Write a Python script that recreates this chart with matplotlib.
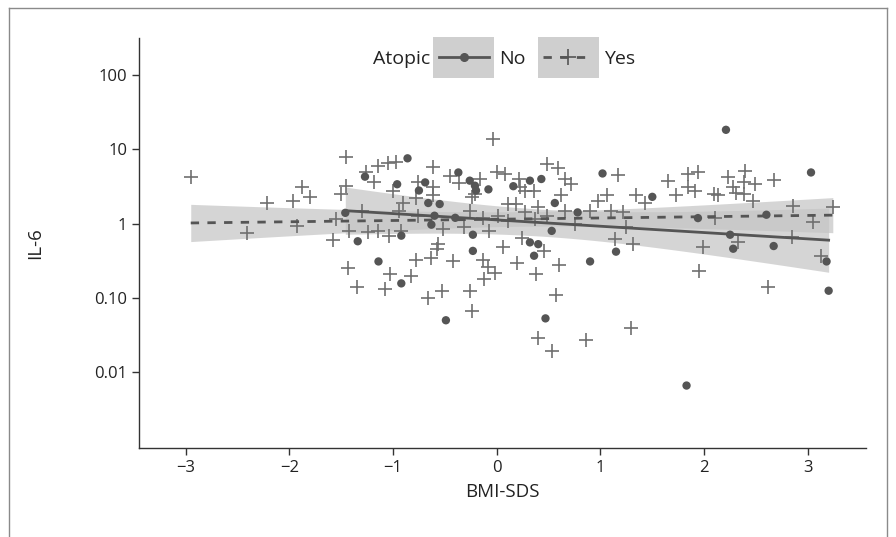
import numpy as np
import matplotlib
matplotlib.use("Agg")
import matplotlib.pyplot as plt
from matplotlib.lines import Line2D
from matplotlib.patches import Rectangle
from matplotlib.legend_handler import HandlerLine2D

plt.rcParams['font.family'] = ['Open Sans', 'DejaVu Sans']

# Atopic = No (filled circles)
no_x = [-1.46, -1.27, -1.34, -1.14, -0.92, -0.92, -0.96, -0.86, -0.69, -0.75,
        -0.66, -0.55, -0.63, -0.60, -0.49, -0.40, -0.37, -0.26, -0.21, -0.20,
        -0.08, -0.23, -0.23, 0.16, 0.32, 0.43, 0.56, 0.53, 0.32, 0.40,
        0.36, 0.47, 0.78, 0.90, 1.02, 1.15, 1.50, 1.83, 1.94, 2.21,
        2.25, 2.28, 2.60, 2.67, 3.03, 3.18, 3.20]
no_y = [1.4, 4.3, 0.58, 0.31, 0.69, 0.157, 3.4, 7.6, 3.6, 2.8,
        1.9, 1.84, 0.97, 1.28, 0.05, 1.2, 4.9, 3.8, 3.25, 2.8,
        2.9, 0.71, 0.43, 3.2, 3.8, 4.0, 1.9, 0.8, 0.56, 0.53,
        0.37, 0.053, 1.42, 0.31, 4.75, 0.42, 2.3, 0.0066, 1.19, 18.4,
        0.71, 0.46, 1.32, 0.5, 4.9, 0.31, 0.125]

# Atopic = Yes (plus markers)
yes_x = [-2.95, -2.41, -2.21, -1.96, -1.93, -1.88, -1.80, -1.58, -1.55, -1.50,
         -1.45, -1.45, -1.42, -1.43, -1.35, -1.30, -1.26, -1.24, -1.18, -1.14,
         -1.14, -1.08, -1.05, -1.04, -1.03, -1.00, -0.97, -0.94, -0.92, -0.90,
         -0.83, -0.78, -0.78, -0.76, -0.76, -0.66, -0.63, -0.61, -0.61, -0.61,
         -0.58, -0.57, -0.53, -0.52, -0.45, -0.42, -0.36, -0.32, -0.26, -0.26,
         -0.24, -0.24, -0.21, -0.16, -0.13, -0.13, -0.12, -0.08, -0.07, -0.04,
         -0.02, 0.00, 0.01, 0.06, 0.08, 0.11, 0.11, 0.19, 0.20, 0.21,
         0.22, 0.24, 0.27, 0.27, 0.37, 0.36, 0.38, 0.40, 0.40, 0.46,
         0.48, 0.48, 0.53, 0.57, 0.59, 0.60, 0.62, 0.66, 0.66, 0.72,
         0.75, 0.86, 0.90, 0.98, 1.06, 1.10, 1.14, 1.17, 1.22, 1.25,
         1.29, 1.31, 1.34, 1.43, 1.65, 1.73, 1.84, 1.84, 1.91, 1.94,
         1.95, 1.99, 2.09, 2.10, 2.13, 2.23, 2.28, 2.31, 2.33, 2.38,
         2.38, 2.39, 2.47, 2.49, 2.62, 2.67, 2.85, 2.86, 3.05, 3.13,
         3.24]
yes_y = [4.3, 0.76, 1.9, 2.0, 0.94, 3.15, 2.3, 0.61, 1.15, 2.5,
         3.2, 8.0, 0.8, 0.25, 0.14, 1.5, 4.9, 0.78, 3.7, 6.0,
         0.8, 0.13, 6.5, 0.69, 0.21, 2.8, 6.8, 1.5, 0.8, 1.9,
         0.2, 0.32, 2.2, 3.6, 1.28, 0.099, 0.35, 5.8, 3.1, 2.4,
         0.46, 0.53, 0.123, 0.85, 4.4, 0.31, 3.5, 0.89, 1.5, 0.125,
         0.067, 2.26, 2.5, 4.0, 1.2, 0.32, 0.18, 0.26, 0.8, 13.8,
         0.22, 4.9, 1.28, 0.49, 4.7, 1.84, 1.1, 1.84, 0.30, 4.0,
         3.1, 0.65, 2.8, 1.42, 1.15, 2.8, 0.21, 1.66, 0.029, 0.43,
         6.4, 1.28, 0.0195, 0.11, 5.7, 0.28, 2.4, 4.0, 1.5, 3.4,
         0.99, 0.027, 1.5, 2.0, 2.4, 1.5, 0.62, 4.5, 1.42, 0.89,
         0.039, 0.53, 2.4, 1.9, 3.8, 2.45, 4.7, 3.1, 2.8, 4.9,
         0.23, 0.49, 2.5, 1.2, 2.4, 4.2, 3.1, 2.6, 0.56, 3.6,
         2.5, 5.2, 2.0, 3.4, 0.14, 3.9, 0.67, 1.75, 1.04, 0.37,
         1.66]

ytick_vals = [100, 10, 1, 0.1, 0.01]
ytick_labels = ['100', '10', '1', '0.10', '0.01']
xtick_vals = [-3, -2, -1, 0, 1, 2, 3]


def fit_band(x, y, n=100):
    # OLS on log10(y) with 95% confidence band
    x = np.asarray(x)
    ly = np.log10(np.asarray(y))
    b, a = np.polyfit(x, ly, 1)
    res = ly - (a + b * x)
    s = np.sqrt(np.sum(res ** 2) / (len(x) - 2))
    gx = np.linspace(x.min(), x.max(), n)
    se = s * np.sqrt(1 / len(x) + (gx - x.mean()) ** 2 / np.sum((x - x.mean()) ** 2))
    fit = a + b * gx
    return gx, 10 ** fit, 10 ** (fit - 1.97 * se), 10 ** (fit + 1.97 * se)


class KeyHandler(HandlerLine2D):
    # legend key drawn on a grey background box
    def create_artists(self, legend, orig_handle, xdescent, ydescent,
                       width, height, fontsize, trans):
        bg = Rectangle((-xdescent - 4, -ydescent - 10), width + 8, height + 20,
                       facecolor='#cfcfcf', edgecolor='none', transform=trans)
        arts = super().create_artists(legend, orig_handle, xdescent, ydescent,
                                      width, height, fontsize, trans)
        return [bg] + arts


fig = plt.figure(figsize=(8.96, 5.37), dpi=100)
ax = fig.add_axes([0.155, 0.166, 0.8115, 0.763])

band_col = '#c4c4c4'
line_col = '#555555'
txt_col = '#222222'

for xs, ys in [(no_x, no_y), (yes_x, yes_y)]:
    gx, fy, lo, hi = fit_band(xs, ys)
    ax.fill_between(gx, lo, hi, color=band_col, alpha=0.7, lw=0, zorder=1)

ax.scatter(yes_x, yes_y, marker='+', s=110, linewidths=1.2, color='#707070', zorder=2)
ax.scatter(no_x, no_y, marker='o', s=36, color='#555555', edgecolors='none', zorder=3)

gx, fy, lo, hi = fit_band(no_x, no_y)
ax.plot(gx, fy, color=line_col, lw=2, ls='-', zorder=4)
gx, fy, lo, hi = fit_band(yes_x, yes_y)
ax.plot(gx, fy, color=line_col, lw=2, ls=(0, (3, 3)), zorder=4)

ax.set_yscale('log')
ax.set_ylim(10 ** -3.02, 10 ** 2.5)
ax.set_xlim(-3.45, 3.56)
ax.yaxis.set_minor_locator(matplotlib.ticker.NullLocator())
ax.set_yticks(ytick_vals)
ax.set_yticklabels(ytick_labels)
ax.set_xticks(xtick_vals)

for s in ['top', 'right']:
    ax.spines[s].set_visible(False)
for s in ['left', 'bottom']:
    ax.spines[s].set_color('#333333')
    ax.spines[s].set_linewidth(1.0)
ax.tick_params(colors='#333333', labelcolor=txt_col, labelsize=12, length=5, width=1)
ax.set_xlabel('BMI-SDS', fontsize=13.5, color=txt_col, labelpad=5)
ax.set_ylabel('IL-6', fontsize=13.5, color=txt_col, labelpad=36)

h_no = Line2D([], [], color=line_col, lw=2, marker='o', markersize=5.5, ls='-')
h_yes = Line2D([], [], color=line_col, lw=2, ls=(0, (3, 3)), marker='+',
               markersize=11, markeredgewidth=1.2)
leg = ax.legend([h_no, h_yes], ['No', 'Yes'], ncol=2, loc='center',
                bbox_to_anchor=(0.5475, 0.949), frameon=False, fontsize=14,
                handlelength=2.57, handletextpad=0.57, columnspacing=0.88,
                handler_map={Line2D: KeyHandler()})
for t in leg.get_texts():
    t.set_color(txt_col)
ax.text(0.4003, 0.949, 'Atopic', transform=ax.transAxes, ha='right', va='center',
        fontsize=14, color=txt_col)

# thin frame around the figure
fig.add_artist(Line2D([0.010, 0.010], [0.0, 0.985], color='#8a8a8a', lw=1))
fig.add_artist(Line2D([0.010, 0.990], [0.985, 0.985], color='#8a8a8a', lw=1))
fig.add_artist(Line2D([0.990, 0.990], [0.0, 0.985], color='#8a8a8a', lw=1))

fig.savefig('out.png', dpi=100)
